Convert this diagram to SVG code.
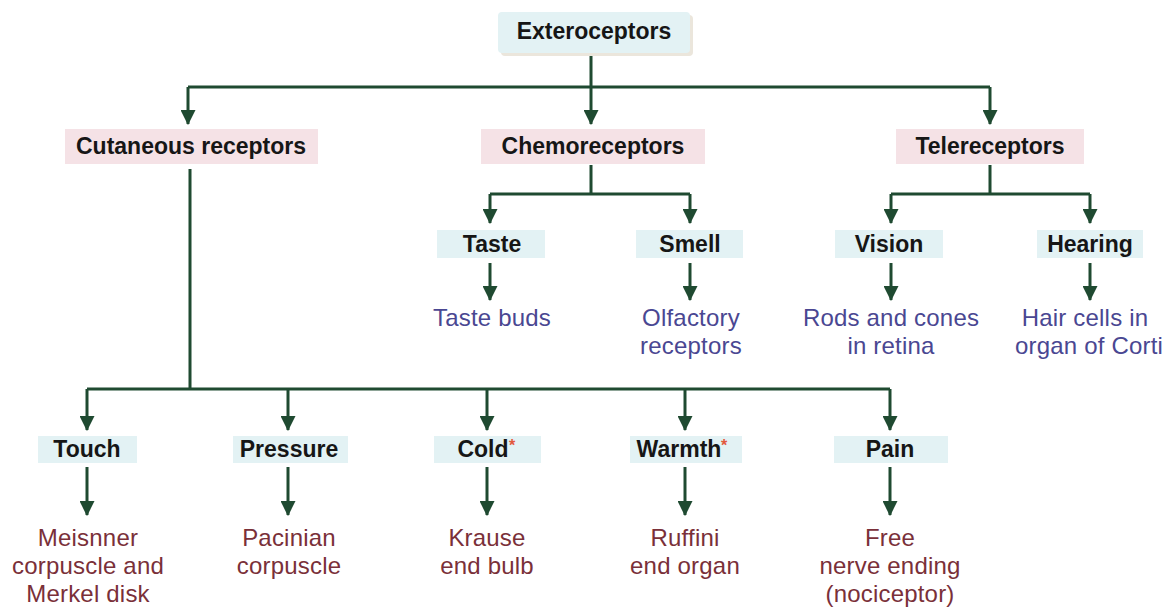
<svg xmlns="http://www.w3.org/2000/svg" width="1174" height="607" viewBox="0 0 1174 607">
<style>
.lbl{font-family:"Liberation Sans",Arial,sans-serif;font-weight:bold;font-size:23px;fill:#161616;text-anchor:middle}
.blue{font-family:"Liberation Sans",Arial,sans-serif;font-size:24px;fill:#4a4792;text-anchor:middle;letter-spacing:0.2px}
.red{font-family:"Liberation Sans",Arial,sans-serif;font-size:24px;fill:#7a3039;text-anchor:middle;letter-spacing:0.2px}
.cyan{fill:#e3f2f4}
.pink{fill:#f5e2e6}
.shadow{fill:#ebe6dc}
.ast{fill:#e2583c;font-family:"Liberation Sans",Arial,sans-serif;font-size:16px;font-weight:bold}
.con{fill:none;stroke:#1f4a31;stroke-width:3}
</style>
<defs>
<marker id="arr" markerUnits="userSpaceOnUse" markerWidth="15" markerHeight="15" viewBox="0 0 14 14" refX="13" refY="7" orient="auto">
<path d="M0,0 L14,7 L0,14 z" fill="#1f4a31"/>
</marker>
</defs>
<rect width="1174" height="607" fill="#ffffff"/>

<g id="connectors">
<path class="con" d="M591,53 V87 M188,87 H990"/>
<path class="con" d="M188,87 V124" marker-end="url(#arr)"/>
<path class="con" d="M591,87 V124" marker-end="url(#arr)"/>
<path class="con" d="M990,87 V124" marker-end="url(#arr)"/>
<path class="con" d="M591,165 V194 M490,194 H690"/>
<path class="con" d="M490,194 V223" marker-end="url(#arr)"/>
<path class="con" d="M690,194 V223" marker-end="url(#arr)"/>
<path class="con" d="M990,165 V194 M891,194 H1090"/>
<path class="con" d="M891,194 V223" marker-end="url(#arr)"/>
<path class="con" d="M1090,194 V223" marker-end="url(#arr)"/>
<path class="con" d="M490,263 V300" marker-end="url(#arr)"/>
<path class="con" d="M690,263 V300" marker-end="url(#arr)"/>
<path class="con" d="M891,263 V300" marker-end="url(#arr)"/>
<path class="con" d="M1090,263 V300" marker-end="url(#arr)"/>
<path class="con" d="M190,169 V389 M87,389 H890"/>
<path class="con" d="M87,389 V430" marker-end="url(#arr)"/>
<path class="con" d="M288,389 V430" marker-end="url(#arr)"/>
<path class="con" d="M487,389 V430" marker-end="url(#arr)"/>
<path class="con" d="M685,389 V430" marker-end="url(#arr)"/>
<path class="con" d="M890,389 V430" marker-end="url(#arr)"/>
<path class="con" d="M87,467 V515" marker-end="url(#arr)"/>
<path class="con" d="M288,467 V515" marker-end="url(#arr)"/>
<path class="con" d="M487,467 V515" marker-end="url(#arr)"/>
<path class="con" d="M685,467 V515" marker-end="url(#arr)"/>
<path class="con" d="M890,467 V515" marker-end="url(#arr)"/>
</g>

<g id="exteroceptors">
<rect class="shadow" x="501" y="15" width="192" height="41" rx="4"/>
<rect class="cyan" x="498" y="12" width="192" height="41" rx="4"/>
<text class="lbl" x="594" y="39">Exteroceptors</text>
</g>

<g id="cutaneous">
<rect class="pink" x="65" y="129" width="253" height="35"/>
<text class="lbl" x="191" y="154">Cutaneous receptors</text>
</g>
<g id="chemoreceptors">
<rect class="pink" x="481" y="129" width="224" height="35"/>
<text class="lbl" x="593" y="154">Chemoreceptors</text>
</g>
<g id="telereceptors">
<rect class="pink" x="896" y="129" width="188" height="35"/>
<text class="lbl" x="990" y="154">Telereceptors</text>
</g>

<g id="taste">
<rect class="cyan" x="437" y="230" width="108" height="28"/>
<text class="lbl" x="492" y="252">Taste</text>
</g>
<g id="smell">
<rect class="cyan" x="636" y="230" width="107" height="28"/>
<text class="lbl" x="690" y="252">Smell</text>
</g>
<g id="vision">
<rect class="cyan" x="835" y="230" width="108" height="28"/>
<text class="lbl" x="889" y="252">Vision</text>
</g>
<g id="hearing">
<rect class="cyan" x="1037" y="230" width="106" height="28"/>
<text class="lbl" x="1090" y="252">Hearing</text>
</g>

<g id="taste-buds"><text class="blue" x="492" y="326">Taste buds</text></g>
<g id="olfactory"><text class="blue" x="691" y="326">Olfactory</text><text class="blue" x="691" y="354">receptors</text></g>
<g id="rods"><text class="blue" x="891" y="326">Rods and cones</text><text class="blue" x="891" y="354">in retina</text></g>
<g id="hair"><text class="blue" x="1085" y="326">Hair cells in</text><text class="blue" x="1089" y="354">organ of Corti</text></g>

<g id="touch">
<rect class="cyan" x="38" y="436" width="99" height="27"/>
<text class="lbl" x="87" y="457">Touch</text>
</g>
<g id="pressure">
<rect class="cyan" x="233" y="436" width="115" height="27"/>
<text class="lbl" x="289" y="457">Pressure</text>
</g>
<g id="cold">
<rect class="cyan" x="434" y="436" width="107" height="27"/>
<text class="lbl" x="483" y="457">Cold</text>
<text class="ast" x="509" y="451">*</text>
</g>
<g id="warmth">
<rect class="cyan" x="630" y="436" width="112" height="27"/>
<text class="lbl" x="679" y="457">Warmth</text>
<text class="ast" x="721" y="451">*</text>
</g>
<g id="pain">
<rect class="cyan" x="834" y="436" width="114" height="27"/>
<text class="lbl" x="890" y="457">Pain</text>
</g>

<g id="meisnner"><text class="red" x="88" y="546">Meisnner</text><text class="red" x="88" y="574">corpuscle and</text><text class="red" x="88" y="602">Merkel disk</text></g>
<g id="pacinian"><text class="red" x="289" y="546">Pacinian</text><text class="red" x="289" y="574">corpuscle</text></g>
<g id="krause"><text class="red" x="487" y="546">Krause</text><text class="red" x="487" y="574">end bulb</text></g>
<g id="ruffini"><text class="red" x="685" y="546">Ruffini</text><text class="red" x="685" y="574">end organ</text></g>
<g id="free"><text class="red" x="890" y="546">Free</text><text class="red" x="890" y="574">nerve ending</text><text class="red" x="890" y="602">(nociceptor)</text></g>
</svg>
